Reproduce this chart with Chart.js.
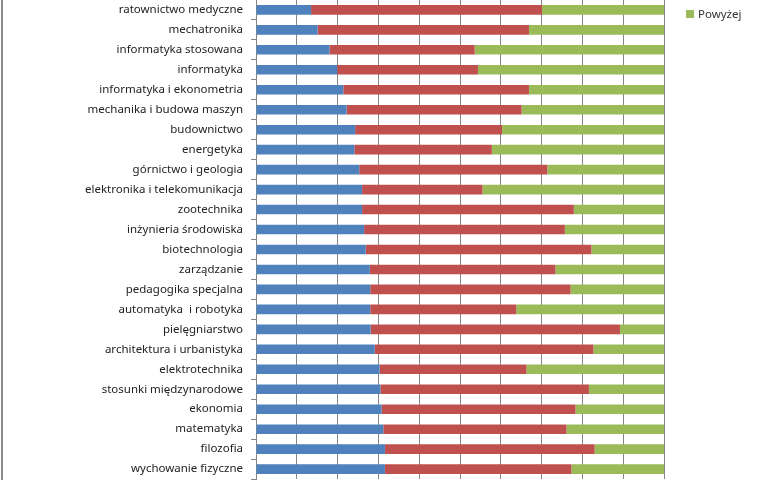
<!DOCTYPE html>
<html>
<head>
<meta charset="utf-8">
<script src="https://cdn.jsdelivr.net/npm/chart.js@4/dist/chart.umd.min.js"></script>
<style>
  body { margin: 0; background: #fff; }
  #wrap { position: relative; width: 772px; height: 480px; overflow: hidden; background: #fff; }
  #frame { position: absolute; left: 1px; top: 0; width: 2px; height: 480px; background: #8c8c8c; }
  #box { position: absolute; left: 0; top: -15px; width: 772px; height: 509px; }
  #legend { position: absolute; left: 686px; top: 6px; font: 11.5px "Noto Sans", sans-serif; color: #333; }
  #legend span.sw { display: inline-block; width: 8px; height: 8px; background: #9BBB59; margin-right: 4px; }
</style>
</head>
<body>
<div id="wrap">
  <div id="box"><canvas id="chart"></canvas></div>
  <div id="frame"></div>
  <div id="legend"><span class="sw"></span>Powyżej</div>
</div>
<script>
// kierunki studiów (od góry)
const kierunki = [
    "ratownictwo medyczne", "mechatronika", "informatyka stosowana", "informatyka",
    "informatyka i ekonometria", "mechanika i budowa maszyn", "budownictwo", "energetyka",
    "górnictwo i geologia", "elektronika i telekomunikacja", "zootechnika", "inżynieria środowiska",
    "biotechnologia", "zarządzanie", "pedagogika specjalna", "automatyka  i robotyka",
    "pielęgniarstwo", "architektura i urbanistyka", "elektrotechnika", "stosunki międzynarodowe",
    "ekonomia", "matematyka", "filozofia", "wychowanie fizyczne"
];

// udział procentowy
const ponizej = [13.5, 15.1, 18.0, 19.9, 21.4, 22.2, 24.3, 24.1, 25.3, 26.0, 26.0, 26.5,
                 26.9, 27.9, 28.0, 28.0, 28.1, 29.1, 30.3, 30.5, 30.8, 31.2, 31.6, 31.6];
const przecietnie = [56.6, 51.8, 35.6, 34.5, 45.5, 42.9, 36.0, 33.7, 46.1, 29.5, 51.9, 49.2,
                     55.3, 45.5, 49.1, 35.8, 61.1, 53.6, 36.0, 51.1, 47.5, 44.9, 51.4, 45.7];
const powyzej = [29.9, 33.1, 46.4, 45.6, 33.1, 34.9, 39.7, 42.2, 28.6, 44.5, 22.1, 24.3,
                 17.8, 26.6, 22.9, 36.2, 10.8, 17.3, 33.7, 18.4, 21.7, 23.9, 17.0, 22.7];

const xTicks = [0, 10, 20, 30, 40, 50, 60, 70, 80, 90, 100];

const gridColor = "#868686";

new Chart(document.getElementById("chart"), {
    type: "bar",
    data: {
        labels: kierunki,
        datasets: [
            { label: "Poniżej", data: ponizej, backgroundColor: "#4F81BD" },
            { label: "Przeciętnie", data: przecietnie, backgroundColor: "#C0504D" },
            { label: "Powyżej", data: powyzej, backgroundColor: "#9BBB59" }
        ]
    },
    options: {
        indexAxis: "y",
        responsive: true,
        maintainAspectRatio: false,
        animation: false,
        layout: { padding: { top: 8, bottom: 12, left: 0, right: 108 } },
        datasets: { bar: { barPercentage: 0.48, categoryPercentage: 1.0 } },
        plugins: { legend: { display: false }, tooltip: { enabled: false } },
        scales: {
            x: {
                stacked: true,
                min: 0,
                max: 100,
                afterBuildTicks: (s) => { s.ticks = xTicks.map(v => ({ value: v })); },
                ticks: { display: false },
                grid: { color: gridColor, lineWidth: 1, drawTicks: false },
                border: { display: false }
            },
            y: {
                stacked: true,
                afterFit: (s) => { s.width = 256; },
                ticks: {
                    color: "#222",
                    padding: 8,
                    autoSkip: false,
                    font: { family: "'Noto Sans', sans-serif", size: 11.5 }
                },
                grid: { offset: true, drawOnChartArea: false, color: gridColor, tickLength: 5 },
                border: { display: true, color: gridColor }
            }
        }
    }
});
</script>
</body>
</html>
